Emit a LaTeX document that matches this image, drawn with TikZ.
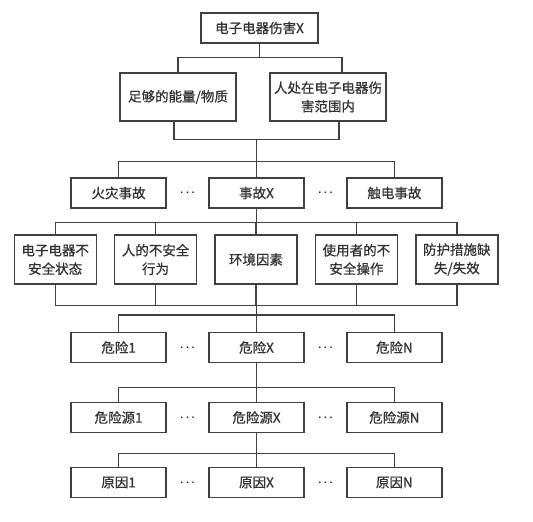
\documentclass[tikz,border=0pt]{standalone}
\usepackage{fontspec}
\setmainfont{Noto Sans CJK SC}[FakeBold=0.8]
\usetikzlibrary{positioning,calc}

\begin{document}
\begin{tikzpicture}[
    x=1pt, y=-1pt,
    every node/.style={font=\fontsize{13.5}{18.5}\selectfont, text=black!80},
    box/.style={draw=black!75, line width=1.4pt, minimum width=95pt, minimum height=30pt, inner sep=0pt, align=center},
    wide/.style={box, minimum width=116pt, minimum height=48pt},
    cause/.style={box, minimum width=82pt, minimum height=49pt},
    link/.style={draw=black!75, line width=1.4pt},
    dots/.style={font=\fontsize{10.5}{10.5}\selectfont\boldmath, text=black!90}
]

\useasboundingbox (0,0) rectangle (533,522);

% 顶层
\node[box, minimum width=117pt] (harm) at (259.5,28) {电子电器伤害X};

% 第二层
\node[wide] (energy) at (178,97) {足够的能量/物质};
\node[wide] (human) at (328,97) {人处在电子电器伤\\害范围内};

% 事故层
\node[box] (accX) at (256.5,193) {事故X};
\node[box, left=41.5pt of accX] (fire) {火灾事故};
\node[box, right=41.5pt of accX] (shock) {触电事故};

% 因素层
\node[cause] (f3) at (256,259.5) {环境因素};
\node[cause, left=17pt of f3] (f2) {人的不安全\\行为};
\node[cause, left=17pt of f2] (f1) {电子电器不\\安全状态};
\node[cause, right=17pt of f3] (f4) {使用者的不\\安全操作};
\node[cause, right=17pt of f4] (f5) {防护措施缺\\失/失效};

% 危险层
\node[box] (hazX) at (256.5,347.5) {危险X};
\node[box, left=41.5pt of hazX] (haz1) {危险1};
\node[box, right=41.5pt of hazX] (hazN) {危险N};

% 危险源层
\node[box] (srcX) at (256.5,417.5) {危险源X};
\node[box, left=41.5pt of srcX] (src1) {危险源1};
\node[box, right=41.5pt of srcX] (srcN) {危险源N};

% 原因层
\node[box] (whyX) at (256.5,482.5) {原因X};
\node[box, left=41.5pt of whyX] (why1) {原因1};
\node[box, right=41.5pt of whyX] (whyN) {原因N};

% 省略号
\foreach \l/\c/\r in {fire/accX/shock, haz1/hazX/hazN, src1/srcX/srcN, why1/whyX/whyN} {
    \node[dots] (\c-dl) at ($(\l.east)!.5!(\c.west)$) {$\cdots$};
    \node[dots] (\c-dr) at ($(\c.east)!.5!(\r.west)$) {$\cdots$};
}

% 连接线
\draw[link] (harm.south) -- ++(0,14) -| (energy.north);
\draw[link] (harm.south) -- ++(0,14) -| ([xshift=14pt]human.north);

\draw[link] ([xshift=-4pt]energy.south) -- ++(0,18) -| (accX.north);
\draw[link] ([xshift=11pt]human.south) -- ++(0,18) -| (accX.north);
\draw[link] (accX.north) -- ++(0,-16) -| (fire.north);
\draw[link] (accX.north) -- ++(0,-16) -| (shock.north);

\foreach \n in {f1,f2,f3,f4,f5}
    \draw[link] (accX.south) -- ++(0,14) -| (\n.north);

\foreach \n in {f1,f2,f3,f4,f5}
    \draw[link] (\n.south) -- ++(0,21) -| (hazX.north);
\draw[link] (hazX.north) -- ++(0,-17) -| (haz1.north);
\draw[link] (hazX.north) -- ++(0,-17) -| (hazN.north);

\foreach \n in {src1,srcX,srcN}
    \draw[link] (hazX.south) -- ++(0,24) -| (\n.north);

\foreach \n in {why1,whyX,whyN}
    \draw[link] (srcX.south) -- ++(0,20) -| (\n.north);

\end{tikzpicture}
\end{document}
